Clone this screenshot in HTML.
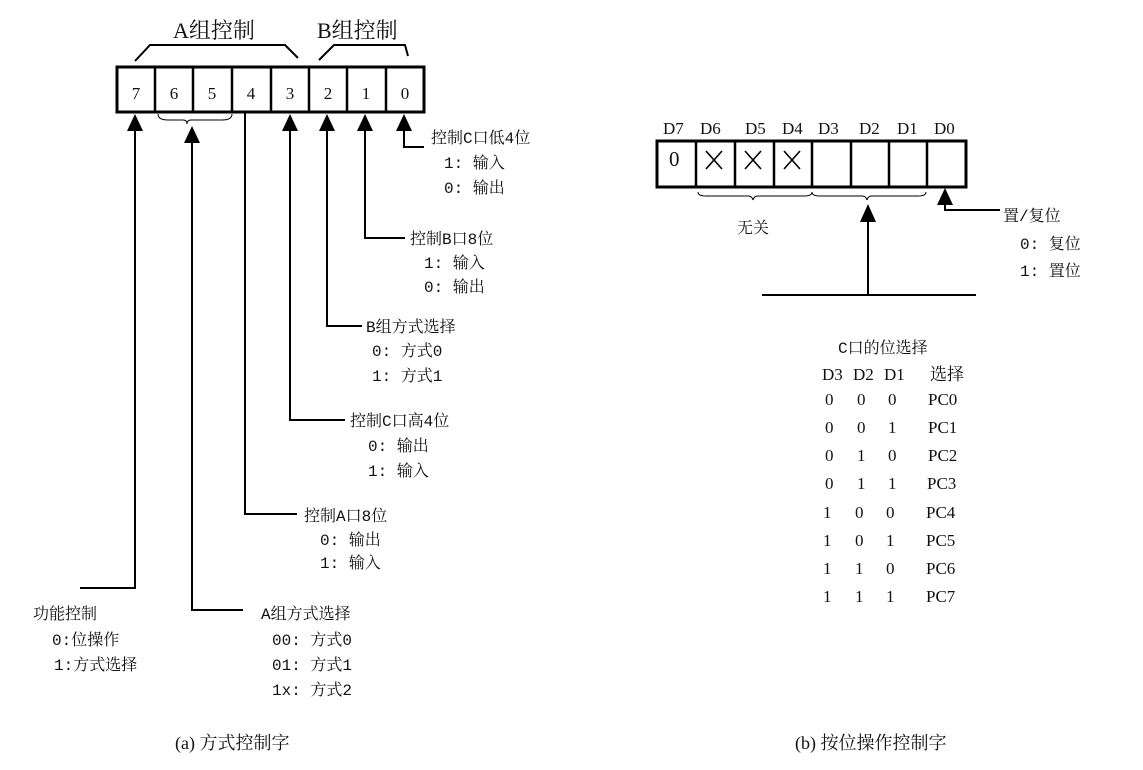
<!DOCTYPE html>
<html><head><meta charset="utf-8"><style>
body{margin:0;background:#fff}
svg text{font-family:"Liberation Serif","Noto Serif CJK SC",serif;font-size:17px;fill:#111;white-space:pre}
svg text.m{font-family:"Liberation Mono","Noto Serif CJK SC",monospace;font-size:16px}
</style></head><body>
<svg width="1143" height="765" viewBox="0 0 1143 765" xmlns="http://www.w3.org/2000/svg">
<g stroke="#000" fill="none">
<rect x="117" y="67" width="307" height="45" stroke-width="3"/>
<g stroke-width="2.5">
<line x1="155" y1="67" x2="155" y2="112"/><line x1="193" y1="67" x2="193" y2="112"/>
<line x1="232" y1="67" x2="232" y2="112"/><line x1="271" y1="67" x2="271" y2="112"/>
<line x1="309" y1="67" x2="309" y2="112"/><line x1="347" y1="67" x2="347" y2="112"/>
<line x1="386" y1="67" x2="386" y2="112"/>
</g>
<polyline points="135,61 150,45 285,45 298,58" stroke-width="2"/>
<polyline points="319,60 334,45 405,45 408,56" stroke-width="2"/>
<path d="M158,114 q0,6 10,6 h15 q4,0 4,4 q0,-4 4,-4 h31 q10,0 10,-6" stroke-width="1"/>
<g stroke-width="2">
<polyline points="135,128 135,588 80,588"/>
<polyline points="192,140 192,610 243,610"/>
<polyline points="245,112 245,514 297,514"/>
<polyline points="290,128 290,420 345,420"/>
<polyline points="327,128 327,326 362,326"/>
<polyline points="365,128 365,238 405,238"/>
<polyline points="404,128 404,147 424,147"/>
</g>
</g>
<g fill="#000">
<polygon points="135,114 127,131 143,131"/>
<polygon points="192,126 184,143 200,143"/>
<polygon points="290,114 282,131 298,131"/>
<polygon points="327,114 319,131 335,131"/>
<polygon points="365,114 357,131 373,131"/>
<polygon points="404,114 396,131 412,131"/>
</g>
<text x="173" y="38" style="font-size:22px">A组控制</text>
<text x="317" y="38" style="font-size:22px">B组控制</text>
<g style="font-size:25px" text-anchor="middle">
<text x="136" y="99">7</text><text x="174" y="99">6</text><text x="212" y="99">5</text><text x="251" y="99">4</text>
<text x="290" y="99">3</text><text x="328" y="99">2</text><text x="366" y="99">1</text><text x="405" y="99">0</text>
</g>
<text class="m" x="431" y="143">控制C口低4位</text><text class="m" x="444" y="168">1: 输入</text><text class="m" x="444" y="193">0: 输出</text>
<text class="m" x="410" y="244">控制B口8位</text><text class="m" x="424" y="268">1: 输入</text><text class="m" x="424" y="292">0: 输出</text>
<text class="m" x="366" y="332">B组方式选择</text><text class="m" x="372" y="356">0: 方式0</text><text class="m" x="372" y="381">1: 方式1</text>
<text class="m" x="350" y="426">控制C口高4位</text><text class="m" x="368" y="451">0: 输出</text><text class="m" x="368" y="476">1: 输入</text>
<text class="m" x="304" y="521">控制A口8位</text><text class="m" x="320" y="545">0: 输出</text><text class="m" x="320" y="568">1: 输入</text>
<text class="m" x="33" y="619">功能控制</text><text class="m" x="52" y="645">0:位操作</text><text class="m" x="54" y="670">1:方式选择</text>
<text class="m" x="261" y="619">A组方式选择</text><text class="m" x="272" y="645">00: 方式0</text><text class="m" x="272" y="670">01: 方式1</text><text class="m" x="272" y="695">1x: 方式2</text>
<text x="175" y="749" style="font-size:18px">(a) 方式控制字</text>
<text x="795" y="749" style="font-size:18px">(b) 按位操作控制字</text>
<g stroke="#000" fill="none">
<rect x="657" y="141" width="309" height="46" stroke-width="3"/>
<g stroke-width="2.5">
<line x1="696" y1="141" x2="696" y2="187"/><line x1="735" y1="141" x2="735" y2="187"/>
<line x1="774" y1="141" x2="774" y2="187"/><line x1="812" y1="141" x2="812" y2="187"/>
<line x1="851" y1="141" x2="851" y2="187"/><line x1="889" y1="141" x2="889" y2="187"/>
<line x1="927" y1="141" x2="927" y2="187"/>
</g>
<g stroke-width="1.6">
<line x1="706" y1="151" x2="722" y2="169"/><line x1="722" y1="151" x2="706" y2="169"/>
<line x1="745" y1="151" x2="761" y2="169"/><line x1="761" y1="151" x2="745" y2="169"/>
<line x1="784" y1="151" x2="800" y2="169"/><line x1="800" y1="151" x2="784" y2="169"/>
</g>
<path d="M698,192 q0,4 8,4 h42 q4,0 5,4 q1,-4 5,-4 h46 q8,0 8,-4" stroke-width="1"/>
<path d="M812,192 q0,4 8,4 h42 q4,0 5,4 q1,-4 5,-4 h46 q8,0 8,-4" stroke-width="1"/>
<g stroke-width="2">
<line x1="868" y1="220" x2="868" y2="295"/>
<line x1="762" y1="295" x2="976" y2="295"/>
<polyline points="945,200 945,210 1000,210"/>
</g>
</g>
<g fill="#000">
<polygon points="868,204 860,222 876,222"/>
<polygon points="945,188 937,205 953,205"/>
</g>
<g style="font-size:19px">
<text x="663" y="134">D7</text><text x="700" y="134">D6</text><text x="745" y="134">D5</text><text x="782" y="134">D4</text>
<text x="818" y="134">D3</text><text x="859" y="134">D2</text><text x="897" y="134">D1</text><text x="934" y="134">D0</text>
</g>
<text x="669" y="166" style="font-size:21px">0</text>
<text class="m" x="737" y="233">无关</text>
<text class="m" x="1003" y="221">置/复位</text><text class="m" x="1020" y="249">0: 复位</text><text class="m" x="1020" y="276">1: 置位</text>
<text class="m" x="838" y="353">C口的位选择</text>
<g style="font-size:18px">
<text x="822" y="380">D3</text><text x="853" y="380">D2</text><text x="884" y="380">D1</text><text x="930" y="380">选择</text>
<text x="825" y="405">0</text><text x="857" y="405">0</text><text x="888" y="405">0</text><text x="928" y="405">PC0</text>
<text x="825" y="433">0</text><text x="857" y="433">0</text><text x="888" y="433">1</text><text x="928" y="433">PC1</text>
<text x="825" y="461">0</text><text x="857" y="461">1</text><text x="888" y="461">0</text><text x="928" y="461">PC2</text>
<text x="825" y="489">0</text><text x="857" y="489">1</text><text x="888" y="489">1</text><text x="927" y="489">PC3</text>
<text x="823" y="518">1</text><text x="855" y="518">0</text><text x="886" y="518">0</text><text x="926" y="518">PC4</text>
<text x="823" y="546">1</text><text x="855" y="546">0</text><text x="886" y="546">1</text><text x="926" y="546">PC5</text>
<text x="823" y="574">1</text><text x="855" y="574">1</text><text x="886" y="574">0</text><text x="926" y="574">PC6</text>
<text x="823" y="602">1</text><text x="855" y="602">1</text><text x="886" y="602">1</text><text x="926" y="602">PC7</text>
</g>
</svg>
</body></html>
